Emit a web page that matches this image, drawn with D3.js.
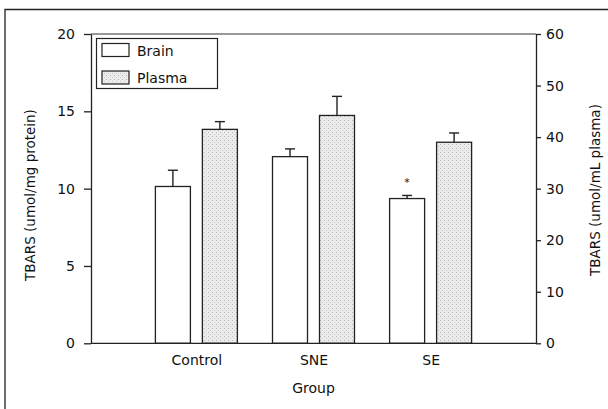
<!DOCTYPE html>
<html>
<head>
<meta charset="utf-8">
<script src="https://cdn.jsdelivr.net/npm/d3@7"></script>
<style>
body { margin: 0; background: #fff; }
text { font-family: "DejaVu Sans", sans-serif; fill: #111; }
</style>
</head>
<body>
<script>
var groups = ["Control", "SNE", "SE"];
var series = ["Brain", "Plasma"];
var brainValues = [10.14, 12.07, 9.36];
var brainErrors = [1.05, 0.5, 0.2];
var plasmaValues = [41.5, 44.2, 39.0];
var plasmaErrors = [1.5, 3.7, 1.8];
var leftTicks = [0, 5, 10, 15, 20];
var rightTicks = [0, 10, 20, 30, 40, 50, 60];

var width = 608, height = 409;
var margin = {top: 34, right: 72, bottom: 65, left: 91};

var svg = d3.select("body").append("svg")
	.attr("width", width)
	.attr("height", height);

// stipple for the plasma bars
var defs = svg.append("defs");
var pat = defs.append("pattern")
	.attr("id", "stipple")
	.attr("patternUnits", "userSpaceOnUse")
	.attr("width", 4)
	.attr("height", 4);
pat.append("rect").attr("width", 4).attr("height", 4).attr("fill", "#ececec");
pat.append("rect").attr("x", 0).attr("y", 0).attr("width", 1).attr("height", 1).attr("fill", "#b8b8b8");
pat.append("rect").attr("x", 2).attr("y", 2).attr("width", 1).attr("height", 1).attr("fill", "#c8c8c8");

// outer frame
svg.append("path")
	.attr("d", "M5,409 V9.5 H608")
	.attr("fill", "none")
	.attr("stroke", "#222")
	.attr("stroke-width", 1.3);

var x0 = margin.left, x1 = width - margin.right;
var yBottom = height - margin.bottom - 0.7, yTop = margin.top;

var x = d3.scalePoint()
	.domain(groups)
	.range([x0, x1])
	.padding(0.9);

var xSub = d3.scaleBand()
	.domain(series)
	.range([-41, 41])
	.paddingInner(0.255);

var yL = d3.scaleLinear().domain([0, 20]).range([yBottom, yTop]);
var yR = d3.scaleLinear().domain([0, 60]).range([yBottom, yTop]);

// top frame line of the plot
svg.append("line")
	.attr("x1", x0).attr("x2", x1)
	.attr("y1", yTop).attr("y2", yTop)
	.attr("stroke", "#333")
	.attr("stroke-width", 1.2);

var bars = [];
groups.forEach(function(g, i) {
	bars.push({group: g, key: "Brain", v: brainValues[i], e: brainErrors[i], y: yL});
	bars.push({group: g, key: "Plasma", v: plasmaValues[i], e: plasmaErrors[i], y: yR});
});

var barG = svg.append("g");

barG.selectAll("line.err")
	.data(bars)
	.enter().append("line")
	.attr("class", "err")
	.attr("x1", function(d) { return x(d.group) + xSub(d.key) + xSub.bandwidth() / 2; })
	.attr("x2", function(d) { return x(d.group) + xSub(d.key) + xSub.bandwidth() / 2; })
	.attr("y1", function(d) { return d.y(d.v); })
	.attr("y2", function(d) { return d.y(d.v + d.e); })
	.attr("stroke", "#222")
	.attr("stroke-width", 1.4);

barG.selectAll("line.cap")
	.data(bars)
	.enter().append("line")
	.attr("class", "cap")
	.attr("x1", function(d) { return x(d.group) + xSub(d.key) + xSub.bandwidth() / 2 - 5; })
	.attr("x2", function(d) { return x(d.group) + xSub(d.key) + xSub.bandwidth() / 2 + 5; })
	.attr("y1", function(d) { return d.y(d.v + d.e); })
	.attr("y2", function(d) { return d.y(d.v + d.e); })
	.attr("stroke", "#222")
	.attr("stroke-width", 1.4);

barG.selectAll("rect")
	.data(bars)
	.enter().append("rect")
	.attr("x", function(d) { return x(d.group) + xSub(d.key); })
	.attr("width", xSub.bandwidth())
	.attr("y", function(d) { return d.y(d.v); })
	.attr("height", function(d) { return d.y(0) - d.y(d.v); })
	.attr("fill", function(d) { return d.key == "Brain" ? "#fff" : "url(#stipple)"; })
	.attr("stroke", "#222")
	.attr("stroke-width", 1.3);

// significance mark on SE brain
var se = bars[4];
svg.append("text")
	.attr("x", x(se.group) + xSub(se.key) + xSub.bandwidth() / 2)
	.attr("y", yL(se.v + se.e) - 9)
	.attr("text-anchor", "middle")
	.style("font-size", "11px")
	.text("*");

// axes
var leftAxis = svg.append("g")
	.attr("transform", "translate(" + x0 + ",0)")
	.call(d3.axisLeft(yL).tickValues(leftTicks).tickSize(7).tickPadding(9).tickSizeOuter(0));

var rightAxis = svg.append("g")
	.attr("transform", "translate(" + x1 + ",0)")
	.call(d3.axisRight(yR).tickValues(rightTicks).tickSize(5).tickPadding(5).tickSizeOuter(0));

var bottomAxis = svg.append("g")
	.attr("transform", "translate(0," + yBottom + ")")
	.call(d3.axisBottom(x).tickSize(0).tickPadding(12).tickSizeOuter(0));

[leftAxis, rightAxis, bottomAxis].forEach(function(a) {
	a.selectAll("path, line").attr("stroke", "#222").attr("stroke-width", 1.3);
	a.selectAll("text")
		.style("font-family", "'DejaVu Sans', sans-serif")
		.style("font-size", "14px")
		.attr("fill", "#111");
});
bottomAxis.select(".domain").attr("d", "M" + x0 + ",0H" + x1);

// axis titles
svg.append("text")
	.attr("transform", "translate(35,195) rotate(-90)")
	.attr("text-anchor", "middle")
	.style("font-size", "13.5px")
	.text("TBARS (umol/mg protein)");

svg.append("text")
	.attr("transform", "translate(600,190) rotate(-90)")
	.attr("text-anchor", "middle")
	.style("font-size", "13.5px")
	.text("TBARS (umol/mL plasma)");

svg.append("text")
	.attr("x", x("SNE"))
	.attr("y", 393)
	.attr("text-anchor", "middle")
	.style("font-size", "14px")
	.text("Group");

// legend
var legend = svg.append("g");
legend.append("rect")
	.attr("x", 96.5).attr("y", 38.5)
	.attr("width", 121).attr("height", 50)
	.attr("fill", "#fff")
	.attr("stroke", "#222")
	.attr("stroke-width", 1.2);

var li = legend.selectAll("g.item")
	.data(series)
	.enter().append("g")
	.attr("class", "item")
	.attr("transform", function(d, i) { return "translate(102," + (43.5 + i * 27.5) + ")"; });

li.append("rect")
	.attr("width", 27).attr("height", 13)
	.attr("fill", function(d) { return d == "Brain" ? "#fff" : "url(#stipple)"; })
	.attr("stroke", "#222")
	.attr("stroke-width", 1.2);

li.append("text")
	.attr("x", 35)
	.attr("y", 12)
	.style("font-size", "14px")
	.text(function(d) { return d; });
</script>
</body>
</html>
